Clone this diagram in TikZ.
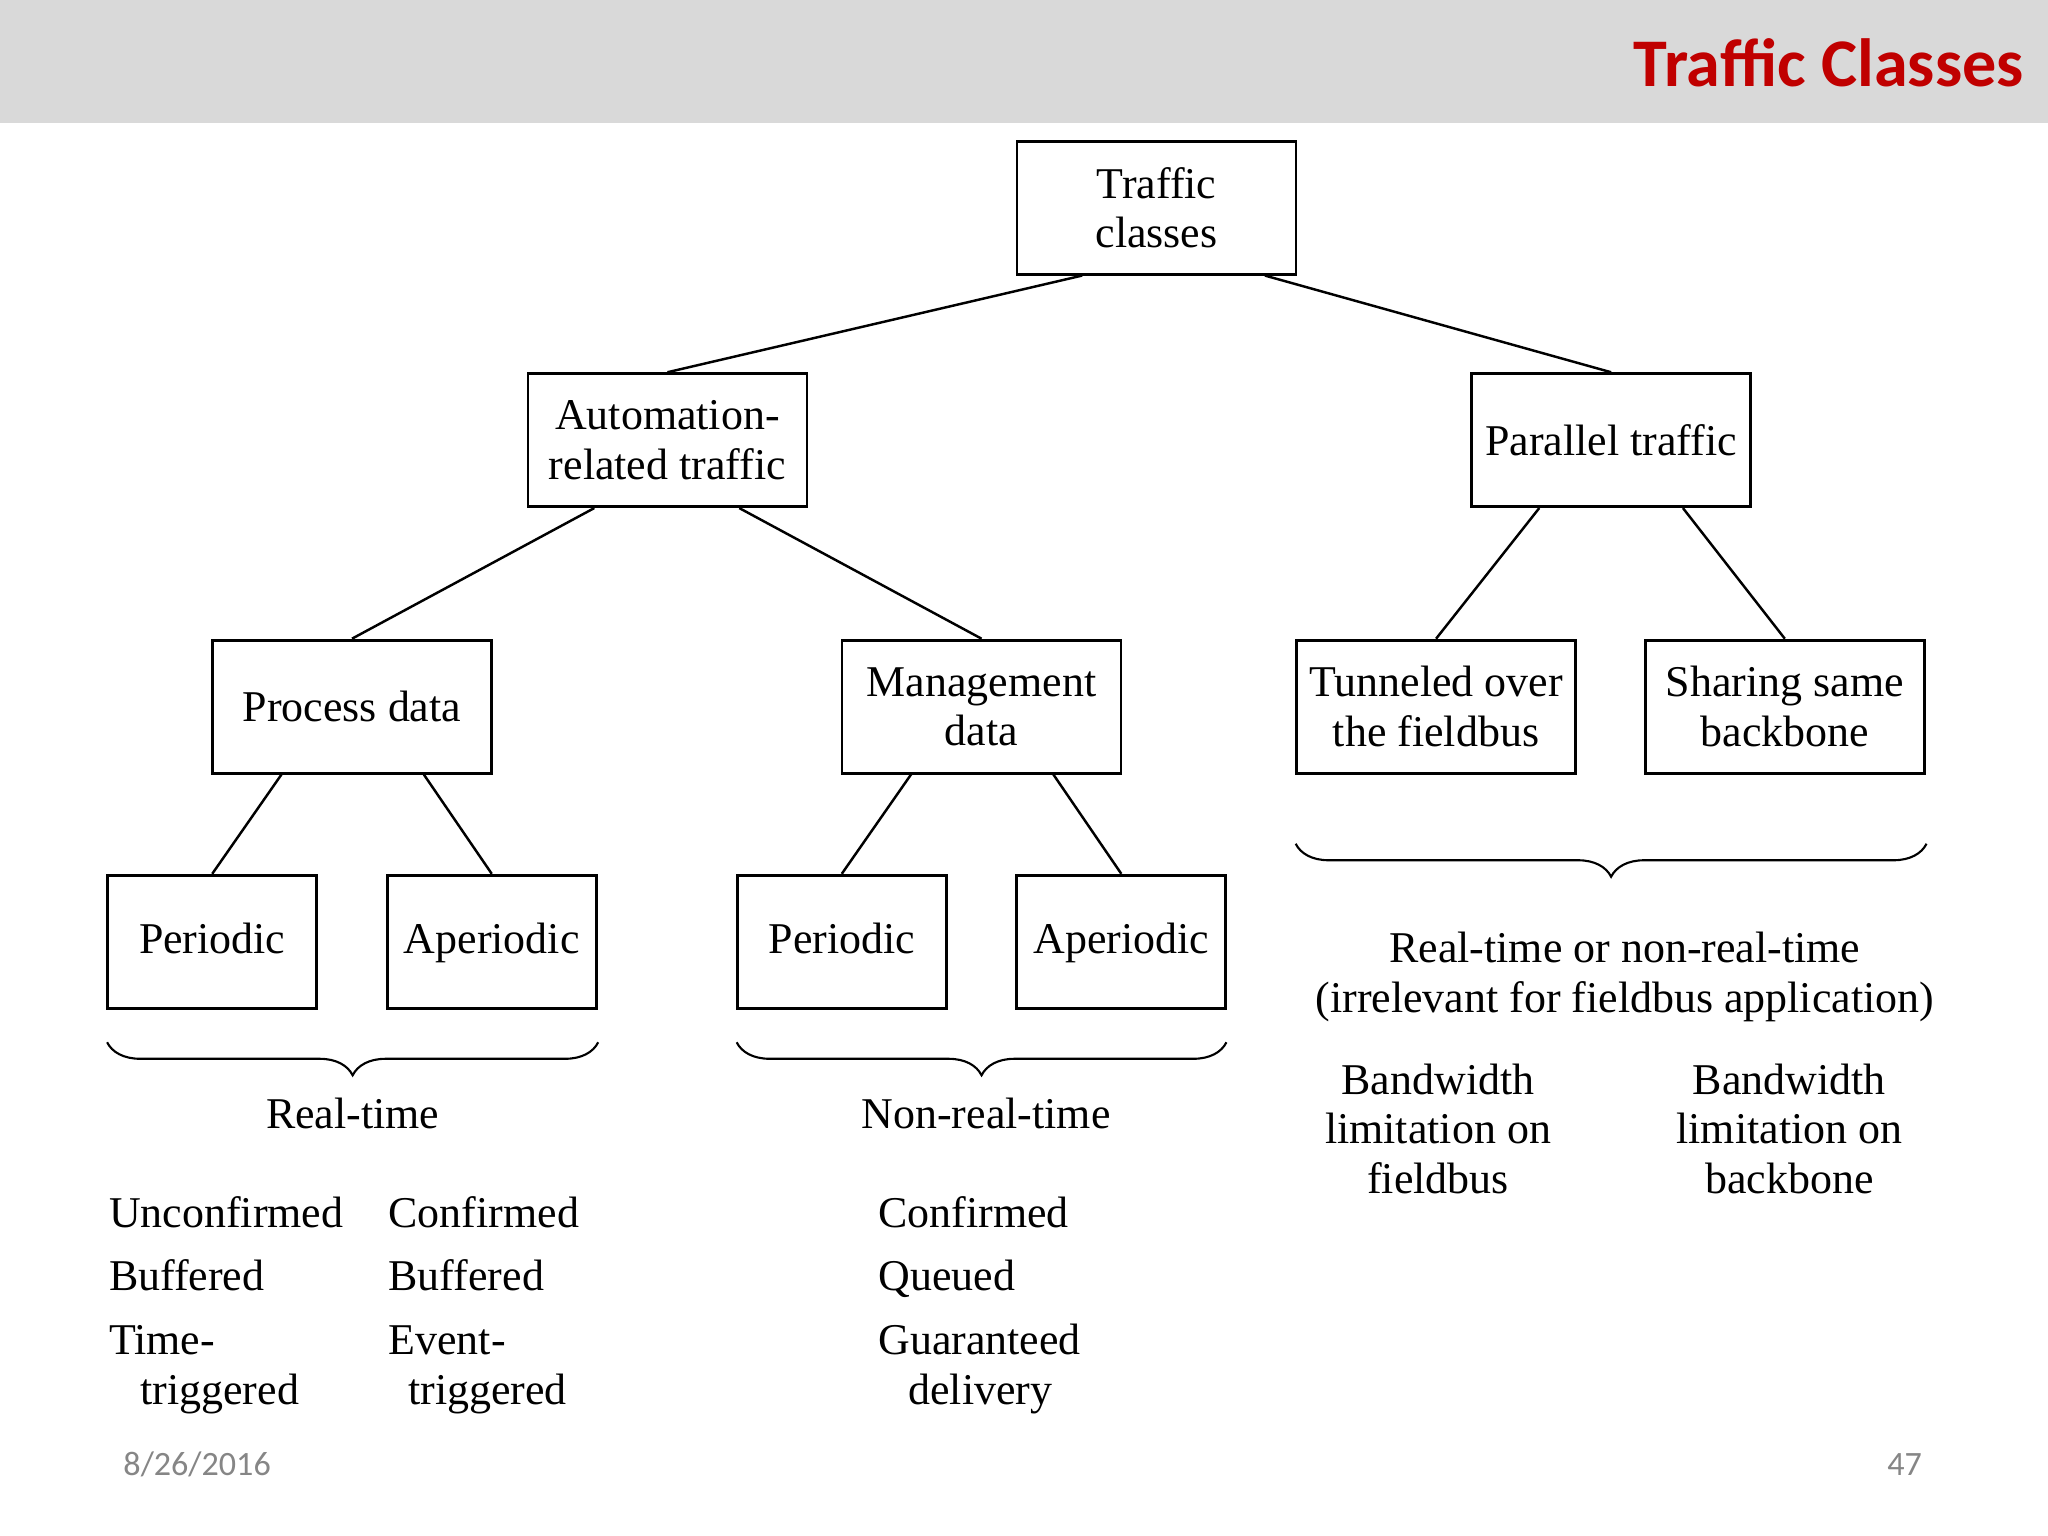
\documentclass[tikz,border=0pt]{standalone}
\usepackage{fontspec}
\setmainfont{Liberation Serif}
\newfontfamily\slidefont{Carlito}
\usetikzlibrary{calc,decorations.pathreplacing}
\definecolor{headgray}{HTML}{D9D9D9}
\definecolor{titlered}{HTML}{C00000}
\definecolor{footgray}{HTML}{868686}
\newcommand\diagfont{\fontsize{12.5}{14.1}\selectfont}
\begin{document}
\begin{tikzpicture}[x=0.01306cm,y=-0.01306cm,
  box/.style={draw,line width=0.8pt,minimum width=2.79cm,minimum height=1.33cm,align=center,inner sep=1pt,font=\diagfont},
  leaf/.style={box,minimum width=2.09cm,text height=1.9ex,text depth=0.4ex},
  conn/.style={line width=0.7pt},
  brc/.style={decorate,decoration={brace,mirror,amplitude=0.33cm},line width=0.6pt},
  lbl/.style={anchor=base,inner sep=0pt,font=\diagfont},
  item/.style={anchor=base west,inner sep=0pt,font=\diagfont}]

\useasboundingbox (0,0) rectangle (1568,1176);
\fill[white] (0,0) rectangle (1568,1176);
\fill[headgray] (0,0) rectangle (1568,94);
\node[anchor=base east,inner sep=0pt,font=\slidefont\fontsize{19.4}{24}\selectfont\bfseries,text=titlered] (title) at (1550,66) {Traffic Classes};

% tree of boxes
\node[box] (tc) at (885.5,159) {Traffic\\classes};
\node[box] (auto) at (511,337) {Automation-\\related traffic};
\node[box] (par) at (1233.5,337) {Parallel traffic};
\node[box] (proc) at (269.5,541) {Process data};
\node[box] (mgmt) at (751.5,541) {Management\\data};
\node[box] (tun) at (1099.5,541) {Tunneled over\\the fieldbus};
\node[box] (shr) at (1366.5,541) {Sharing same\\backbone};
\node[leaf] (per1) at (162.5,721) {Periodic};
\node[leaf] (aper1) at (376.5,721) {Aperiodic};
\node[leaf] (per2) at (644.5,721) {Periodic};
\node[leaf] (aper2) at (858.5,721) {Aperiodic};

\draw[conn] ($(tc.south)+(-57,0)$) -- (auto.north);
\draw[conn] ($(tc.south)+(83,0)$) -- (par.north);
\draw[conn] ($(auto.south)+(-56,0)$) -- (proc.north);
\draw[conn] ($(auto.south)+(55,0)$) -- (mgmt.north);
\draw[conn] ($(par.south)+(-55,0)$) -- (tun.north);
\draw[conn] ($(par.south)+(55,0)$) -- (shr.north);
\draw[conn] ($(proc.south)+(-54,0)$) -- (per1.north);
\draw[conn] ($(proc.south)+(55,0)$) -- (aper1.north);
\draw[conn] ($(mgmt.south)+(-54,0)$) -- (per2.north);
\draw[conn] ($(mgmt.south)+(55,0)$) -- (aper2.north);

% braces
\draw[brc] (82,798) -- (458,798);
\draw[brc] (564,798) -- (939,798);
\draw[brc] (992,646) -- (1475,646);

% labels under the braces
\node[lbl] (rt) at (270,864) {Real-time};
\node[lbl] (nrt) at (755,864) {Non-real-time};
\node[lbl] (either1) at (1244,737) {Real-time or non-real-time};
\node[lbl] (either2) at (1244,775) {(irrelevant for fieldbus application)};
\node[lbl,align=center,anchor=north] (bwf) at (1101,814) {Bandwidth\\limitation on\\fieldbus};
\node[lbl,align=center,anchor=north] (bwb) at (1370,814) {Bandwidth\\limitation on\\backbone};

% properties
\node[item] (u1) at (83,940) {Unconfirmed};
\node[item] (u2) at (83,988) {Buffered};
\node[item] (u3) at (83,1037) {Time-};
\node[item] (u4) at (107,1075) {triggered};
\node[item] (c1) at (297,940) {Confirmed};
\node[item] (c2) at (297,988) {Buffered};
\node[item] (c3) at (297,1037) {Event-};
\node[item] (c4) at (312,1075) {triggered};
\node[item] (n1) at (672,940) {Confirmed};
\node[item] (n2) at (672,988) {Queued};
\node[item] (n3) at (672,1037) {Guaranteed};
\node[item] (n4) at (695,1075) {delivery};

% footer
\node[anchor=base west,inner sep=0pt,font=\slidefont\fontsize{9.7}{11}\selectfont,text=footgray] (date) at (94,1130) {8/26/2016};
\node[anchor=base east,inner sep=0pt,font=\slidefont\fontsize{9.7}{11}\selectfont,text=footgray] (page) at (1472,1130) {47};

\end{tikzpicture}
\end{document}
